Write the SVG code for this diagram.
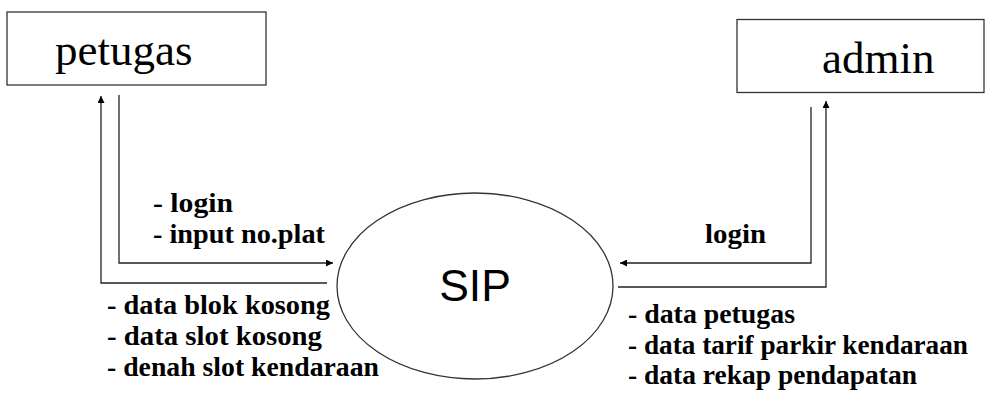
<svg xmlns="http://www.w3.org/2000/svg" width="985" height="394" viewBox="0 0 985 394">
<style>
.box{fill:#fff;stroke:#333;stroke-width:1.3}
.title{font-family:'Liberation Serif','Times New Roman',Tinos,'DejaVu Serif',serif;font-size:45px;fill:#000}
.lbl{font-family:'Liberation Serif','Times New Roman',Tinos,'DejaVu Serif',serif;font-size:28px;font-weight:bold;fill:#000}
.sip{font-family:'Liberation Sans',Arial,sans-serif;font-size:44.5px;fill:#000}
.wire{fill:none;stroke:#222;stroke-width:1.3}
</style>
<defs>
<marker id="ah" viewBox="0 0 10 10" refX="10" refY="5" markerWidth="8" markerHeight="7" markerUnits="userSpaceOnUse" orient="auto">
<path d="M0,0 L10,5 L0,10 z" fill="#000"/>
</marker>
</defs>
<rect width="985" height="394" fill="#fff"/>
<g id="petugas">
<rect class="box" x="7" y="12" width="259" height="73"/>
<text class="title" x="55" y="65">petugas</text>
</g>
<g id="admin">
<rect class="box" x="737" y="19.5" width="247" height="73"/>
<text class="title" x="822" y="73">admin</text>
</g>
<g id="sip">
<ellipse cx="475" cy="286" rx="138" ry="93" fill="none" stroke="#333" stroke-width="1.3"/>
<text class="sip" x="475" y="301" text-anchor="middle">SIP</text>
</g>
<g id="connectors">
<path class="wire" d="M119,95 V263 H333" marker-end="url(#ah)"/>
<path class="wire" d="M327,283 H101 V96" marker-end="url(#ah)"/>
<path class="wire" d="M811,107 V263 H620" marker-end="url(#ah)"/>
<path class="wire" d="M618,287 H826 V101" marker-end="url(#ah)"/>
<text class="lbl" x="153" y="212" textLength="80" lengthAdjust="spacingAndGlyphs">- login</text>
<text class="lbl" x="153" y="243" textLength="172" lengthAdjust="spacingAndGlyphs">- input no.plat</text>
<text class="lbl" x="107" y="314" textLength="223" lengthAdjust="spacingAndGlyphs">- data blok kosong</text>
<text class="lbl" x="107" y="345" textLength="215" lengthAdjust="spacingAndGlyphs">- data slot kosong</text>
<text class="lbl" x="107" y="376" textLength="272" lengthAdjust="spacingAndGlyphs">- denah slot kendaraan</text>
<text class="lbl" x="705" y="243" textLength="61" lengthAdjust="spacingAndGlyphs">login</text>
<text class="lbl" x="628" y="323" textLength="167" lengthAdjust="spacingAndGlyphs">- data petugas</text>
<text class="lbl" x="628" y="354" textLength="340" lengthAdjust="spacingAndGlyphs">- data tarif parkir kendaraan</text>
<text class="lbl" x="628" y="384" textLength="289" lengthAdjust="spacingAndGlyphs">- data rekap pendapatan</text>
</g>
</svg>
